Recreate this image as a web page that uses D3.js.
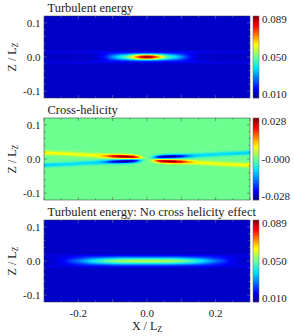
<!DOCTYPE html>
<html>
<head>
<meta charset="utf-8">
<script src="https://cdn.jsdelivr.net/npm/d3@7"></script>
<style>
html, body { margin: 0; padding: 0; background: #fff; }
svg { display: block; }
text { font-family: "Liberation Serif", serif; fill: #222; }
</style>
</head>
<body>
<svg id="chart" width="294" height="336"></svg>
<script>
// sample positions, |x| and |z| in units of Lz (panels are mirrored about both axes)
var xSamples = [0, .01, .02, .03, .04, .05, .06, .08, .10, .12, .14, .16, .18, .20, .22, .24, .27, .30];
var zSamples = [0, .003, .006, .009, .012, .015, .018, .021, .024, .027];

// values x 1000, one row per zSample, one column per xSample
var energy = [
    [90, 88, 80, 72, 64, 56, 48, 41, 32, 22, 17, 15, 15, 15, 15, 15, 15, 15],
    [82, 80, 74, 67, 59, 52, 45, 38, 30, 21, 17, 15, 15, 15, 15, 15, 15, 15],
    [62, 60, 57, 53, 48, 43, 38, 33, 27, 20, 16, 15, 15, 15, 15, 15, 15, 15],
    [38, 38, 37, 35, 33, 31, 28, 26, 22, 19, 16, 15, 15, 15, 15, 15, 15, 15],
    [24, 24, 24, 23, 23, 22, 22, 21, 20, 19, 17, 16, 15, 15, 15, 15, 15, 15],
    [19, 19, 19, 19, 19, 19, 19, 19, 19, 19, 19, 19, 19, 19, 18, 18, 18, 18],
    [16, 16, 16, 16, 16, 16, 16, 16, 16, 16, 16, 16, 16, 16, 16, 16, 16, 16],
    [15, 15, 15, 15, 15, 15, 15, 15, 15, 15, 15, 15, 15, 15, 15, 15, 15, 15],
    [15, 15, 15, 15, 15, 15, 15, 15, 15, 15, 15, 15, 15, 15, 15, 15, 15, 15],
    [15, 15, 15, 15, 15, 15, 15, 15, 15, 15, 15, 15, 15, 15, 15, 15, 15, 15]
];
var helicity = [
    [0, 0,  0,  0,  0,  0,  0,  0,  0,  0,  0,  0,  0,  0,  0,  0,  0,  0],
    [0, 3, 10, 17, 18, 18, 16, 13,  9,  5,  3,  1,  1,  0,  0,  0,  0,  0],
    [0, 2, 10, 20, 25, 29, 29, 27, 20, 12,  7,  4,  3,  2,  1,  1,  0,  0],
    [0, 0,  5, 12, 19, 23, 26, 27, 23, 15, 10,  8,  6,  5,  3,  2,  1,  1],
    [0, 0,  1,  4,  7,  9, 11, 13, 13, 11,  9,  9,  9,  8,  7,  6,  4,  3],
    [0, 0,  0,  1,  1,  3,  3,  4,  5,  5,  5,  6,  7,  8,  9,  9,  9,  8],
    [0, 0,  0,  0,  0,  0,  1,  1,  1,  1,  2,  2,  3,  4,  6,  7,  9,  9],
    [0, 0,  0,  0,  0,  0,  0,  0,  0,  0,  0,  1,  1,  2,  3,  4,  5,  8],
    [0, 0,  0,  0,  0,  0,  0,  0,  0,  0,  0,  0,  0,  0,  1,  1,  2,  4],
    [0, 0,  0,  0,  0,  0,  0,  0,  0,  0,  0,  0,  0,  0,  0,  0,  1,  1]
];
var energyNoHelicity = [
    [55, 55, 55, 55, 55, 54, 54, 53, 51, 48, 44, 40, 34, 29, 25, 20, 16, 15],
    [53, 53, 53, 53, 53, 52, 52, 51, 49, 46, 42, 38, 33, 28, 24, 19, 16, 15],
    [44, 44, 44, 44, 44, 44, 44, 43, 41, 39, 36, 33, 29, 25, 22, 18, 16, 15],
    [35, 35, 35, 35, 35, 35, 35, 34, 33, 32, 30, 28, 25, 22, 20, 18, 16, 15],
    [27, 27, 27, 27, 27, 27, 27, 27, 26, 25, 24, 23, 22, 20, 19, 17, 16, 16],
    [21, 21, 21, 21, 21, 21, 21, 21, 21, 20, 20, 20, 20, 19, 19, 18, 18, 18],
    [17, 17, 17, 17, 17, 17, 17, 17, 17, 17, 17, 17, 17, 16, 16, 16, 16, 16],
    [15, 15, 15, 15, 15, 15, 15, 15, 15, 15, 15, 15, 15, 15, 15, 15, 15, 15],
    [15, 15, 15, 15, 15, 15, 15, 15, 15, 15, 15, 15, 15, 15, 15, 15, 15, 15],
    [15, 15, 15, 15, 15, 15, 15, 15, 15, 15, 15, 15, 15, 15, 15, 15, 15, 15]
];

var titles = ['Turbulent energy', 'Cross-helicity', 'Turbulent energy: No cross helicity effect'];
var zTicks = [-0.1, 0, 0.1];
var xTicks = [-0.2, 0, 0.2];
var energyRange = [10, 89];
var helicityRange = [-28, 28];
var energyLabels = ['0.010', '0.050', '0.089'];
var helicityLabels = ['-0.028', '-0.000', '0.028'];

var jetStops = ['#00007f', '#0000ff', '#00e0ff', '#6eff91', '#ffff00', '#ff0000', '#7f0000'];
var jetPositions = [0, .11, .36, .5, .65, .88, 1];

var panels = [
    {title: titles[0], grid: energy, range: energyRange, labels: energyLabels, top: 16, odd: false},
    {title: titles[1], grid: helicity, range: helicityRange, labels: helicityLabels, top: 118, odd: true},
    {title: titles[2], grid: energyNoHelicity, range: energyRange, labels: energyLabels, top: 220, odd: false}
];

var plotLeft = 44, plotRight = 250, plotHeight = 82, barLeft = 253, barWidth = 6;

var jet = d3.scaleLinear().domain(jetPositions).range(jetStops).clamp(true);
var x = d3.scaleLinear().domain([-0.3, 0.3]).range([plotLeft, plotRight]);
var svg = d3.select('#chart');
var tickFormat = function(d) { return d3.format('.1f')(d).replace('\u2212', '-'); };

// read the sampled quadrant at any (x, z)
function lookup(grid, odd, xv, zv) {
    var ax = Math.min(Math.abs(xv), .3), az = Math.abs(zv);
    if(az >= .027)
        return grid[9][0];
    var i = Math.max(d3.bisectRight(xSamples, ax) - 1, 0), j = Math.max(d3.bisectRight(zSamples, az) - 1, 0);
    var i2 = Math.min(i + 1, xSamples.length - 1), j2 = Math.min(j + 1, zSamples.length - 1);
    var tx = i2 === i ? 0 : (ax - xSamples[i]) / (xSamples[i2] - xSamples[i]);
    var tz = j2 === j ? 0 : (az - zSamples[j]) / (zSamples[j2] - zSamples[j]);
    var v = (grid[j][i] * (1 - tx) + grid[j][i2] * tx) * (1 - tz) + (grid[j2][i] * (1 - tx) + grid[j2][i2] * tx) * tz;
    if(odd)
        v *= (xv < 0 ? 1 : -1) * (zv < 0 ? -1 : 1);
    return v;
}

function drawField(g, p, z, i) {
    var w = plotRight - plotLeft, canvas = document.createElement('canvas');
    canvas.width = w;
    canvas.height = plotHeight;
    var ctx = canvas.getContext('2d'), color = d3.scaleLinear().domain(p.range).range([0, 1]);
    for(var r = 0; r < plotHeight; ++r)
        for(var c = 0; c < w; ++c) {
            ctx.fillStyle = jet(color(lookup(p.grid, p.odd, x.invert(plotLeft + c + .5), z.invert(p.top + r + .5))));
            ctx.fillRect(c, r, 1, 1);
        }
    // the source picture is soft, so smooth the field a little
    var filter = svg.append('filter').attr('id', 'soft' + i)
        .attr('filterUnits', 'userSpaceOnUse')
        .attr('x', plotLeft).attr('y', p.top).attr('width', w).attr('height', plotHeight);
    filter.append('feGaussianBlur').attr('stdDeviation', .65).attr('edgeMode', 'duplicate');
    g.append('image').attr('x', plotLeft).attr('y', p.top)
        .attr('width', w).attr('height', plotHeight)
        .attr('filter', 'url(#soft' + i + ')')
        .attr('href', canvas.toDataURL());
}

function drawAxes(g, p, z, last) {
    var bottom = p.top + plotHeight;
    var tickColor = p.odd ? '#444' : '#8a8ab0';
    g.append('rect').attr('x', plotLeft).attr('y', p.top)
        .attr('width', plotRight - plotLeft).attr('height', plotHeight)
        .attr('fill', 'none').attr('stroke', '#333').attr('stroke-width', .5);
    // inward ticks on all four sides
    d3.range(-0.3, 0.3001, 0.05).forEach(function(v, i) {
        var len = i % 2 ? 1.5 : 3;
        [[bottom, -len], [p.top, len]].forEach(function(e) {
            g.append('line').attr('x1', x(v)).attr('x2', x(v)).attr('y1', e[0]).attr('y2', e[0] + e[1])
                .attr('stroke', tickColor).attr('stroke-width', .5);
        });
    });
    d3.range(-0.1, 0.1001, 0.02).forEach(function(v, i) {
        var len = i % 5 ? 1.5 : 3;
        [[plotLeft, len], [plotRight, -len]].forEach(function(e) {
            g.append('line').attr('y1', z(v)).attr('y2', z(v)).attr('x1', e[0]).attr('x2', e[0] + e[1])
                .attr('stroke', tickColor).attr('stroke-width', .5);
        });
    });
    g.selectAll('text.ztick').data(zTicks).enter().append('text')
        .attr('class', 'ztick').attr('x', 40.5).attr('y', function(d) { return z(d) + 4; })
        .attr('text-anchor', 'end').attr('font-size', 11)
        .text(tickFormat);
    if(last)
        g.selectAll('text.xtick').data(xTicks).enter().append('text')
            .attr('class', 'xtick').attr('x', function(d) { return x(d); }).attr('y', bottom + 15)
            .attr('text-anchor', 'middle').attr('font-size', 11)
            .text(tickFormat);
    var label = g.append('text').attr('font-size', 12).attr('text-anchor', 'middle')
        .attr('transform', 'translate(15.5,' + z(0) + ') rotate(-90)');
    label.append('tspan').text('Z / L');
    label.append('tspan').attr('font-size', 8).attr('dy', 2).text('Z');
    g.append('text').attr('x', 47.5).attr('y', p.top - 4).attr('font-size', 12.5).text(p.title);
}

function drawColorbar(g, p) {
    var bar = d3.scaleLinear().domain([0, 1]).range([p.top + plotHeight, p.top]);
    g.selectAll('rect.cell').data(d3.range(plotHeight)).enter().append('rect')
        .attr('class', 'cell').attr('x', barLeft).attr('width', barWidth)
        .attr('y', function(d) { return p.top + d; }).attr('height', 1.2)
        .attr('fill', function(d) { return jet(bar.invert(p.top + d + .5)); });
    g.append('rect').attr('x', barLeft).attr('y', p.top).attr('width', barWidth).attr('height', plotHeight)
        .attr('fill', 'none').attr('stroke', '#667').attr('stroke-width', .5);
    var pos = [p.top + plotHeight - 0.5, p.top + plotHeight / 2 + 3.5, p.top + 7];
    g.selectAll('text.bar').data(p.labels).enter().append('text')
        .attr('class', 'bar').attr('x', p.odd ? 261.5 : 262).attr('y', function(d, i) { return pos[i]; })
        .attr('font-size', 11)
        .text(function(d) { return d; });
}

panels.forEach(function(p, i) {
    var z = d3.scaleLinear().domain([-0.12, 0.12]).range([p.top + plotHeight, p.top]);
    var g = svg.append('g').attr('class', 'panel');
    drawField(g, p, z, i);
    drawAxes(g, p, z, i === panels.length - 1);
    drawColorbar(g, p);
});

var xLabel = svg.append('text').attr('x', 147).attr('y', 330).attr('font-size', 12).attr('text-anchor', 'middle');
xLabel.append('tspan').text('X / L');
xLabel.append('tspan').attr('font-size', 8).attr('dy', 2).text('Z');
</script>
</body>
</html>
